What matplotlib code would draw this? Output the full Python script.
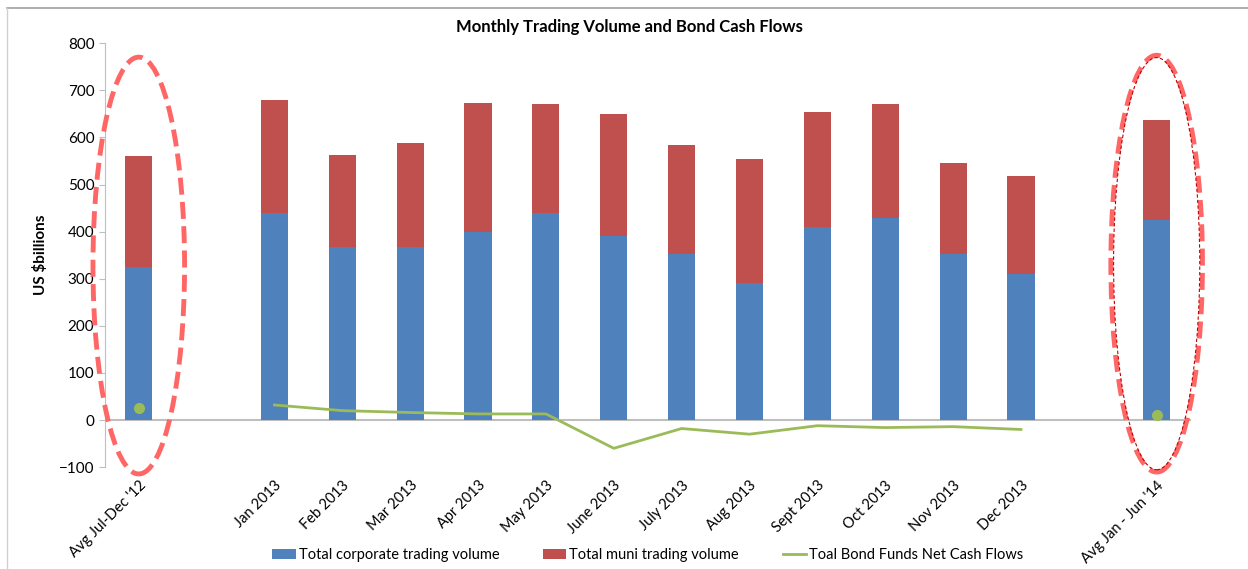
import matplotlib.pyplot as plt
from matplotlib.patches import Ellipse
import numpy as np

plt.rcParams['font.family'] = ['Lato', 'DejaVu Sans']

# categories ("" = empty gap slot)
labels = ["Avg Jul-Dec '12", "", "Jan 2013", "Feb 2013", "Mar 2013", "Apr 2013",
          "May 2013", "June 2013", "July 2013", "Aug 2013", "Sept 2013",
          "Oct 2013", "Nov 2013", "Dec 2013", "", "Avg Jan - Jun '14"]
corporate = [325, 0, 440, 367, 368, 400, 440, 390, 352, 290, 410, 430, 353, 310, 0, 425]
total = [560, 0, 680, 563, 588, 673, 670, 650, 585, 555, 655, 672, 546, 518, 0, 637]
muni = [t - c for t, c in zip(total, corporate)]
flows = [25, None, 32, 20, 16, 13, 13, -60, -18, -30, -12, -16, -14, -20, None, 10]

blue = '#4F81BD'
red = '#C0504D'
green = '#9BBB59'

fig = plt.figure(figsize=(12.48, 5.69), dpi=100)
ax = fig.add_axes([0.084, 0.179, 0.87, 0.745])

x = np.arange(len(labels))
b1 = ax.bar(x, corporate, width=0.4, color=blue, label='Total corporate trading volume')
b2 = ax.bar(x, muni, width=0.4, bottom=corporate, color=red, label='Total muni trading volume')

mx = [i for i in x if labels[i] and not labels[i].startswith('Avg')]
ln, = ax.plot(mx, [flows[i] for i in mx], color=green, lw=2, label='Toal Bond Funds Net Cash Flows')
ax.plot([0, 15], [flows[0], flows[15]], 'o', color=green, ms=7)

ax.axhline(0, color='#BFBFBF', lw=1.5, zorder=0)
ax.set_xlim(-0.5, len(labels) - 0.5)
ax.set_ylim(-100, 800)
ax.set_yticks(range(-100, 801, 100))
ax.set_xticks(x)
ax.set_xticklabels(labels, rotation=45, ha='right', rotation_mode='anchor', fontsize=10.5)
ax.tick_params(axis='x', length=0, pad=8)
ax.tick_params(axis='y', labelsize=11, color='#BFBFBF', length=4)
for s in ['top', 'right', 'bottom']:
    ax.spines[s].set_visible(False)
ax.spines['left'].set_color('#BFBFBF')
ax.set_ylabel('US \\$billions', fontsize=11, fontweight='bold', labelpad=8)
fig.text(0.504, 0.944, 'Monthly Trading Volume and Bond Cash Flows',
         fontsize=12, fontweight='bold', ha='center')

# highlight ellipses
for cx, cy in [(0, 328), (15, 332)]:
    e = Ellipse((cx, cy), 1.35, 885, fill=False, ec='#FF6666', lw=3.5,
                ls=(0, (3.5, 1.5)), clip_on=False, zorder=5)
    ax.add_patch(e)
e2 = Ellipse((15, 332), 1.27, 875, fill=False, ec='#C00000', lw=0.8,
             ls=(0, (3, 2)), clip_on=False, zorder=6)
ax.add_patch(e2)

ax.legend([b1, b2, ln], [b1.get_label(), b2.get_label(), ln.get_label()],
          loc='lower center', bbox_to_anchor=(0.5, -0.255), ncol=3, frameon=False,
          fontsize=10.5, handlelength=1.6, columnspacing=3, handletextpad=0.2)

# frame lines at the top and left edge
fig.add_artist(plt.Line2D([0.006, 1], [0.986, 0.986], color='#A0A0A0', lw=1.2))
fig.add_artist(plt.Line2D([0.006, 0.006], [0, 0.986], color='#D0D0D0', lw=1))

fig.savefig('out.png', dpi=100)
